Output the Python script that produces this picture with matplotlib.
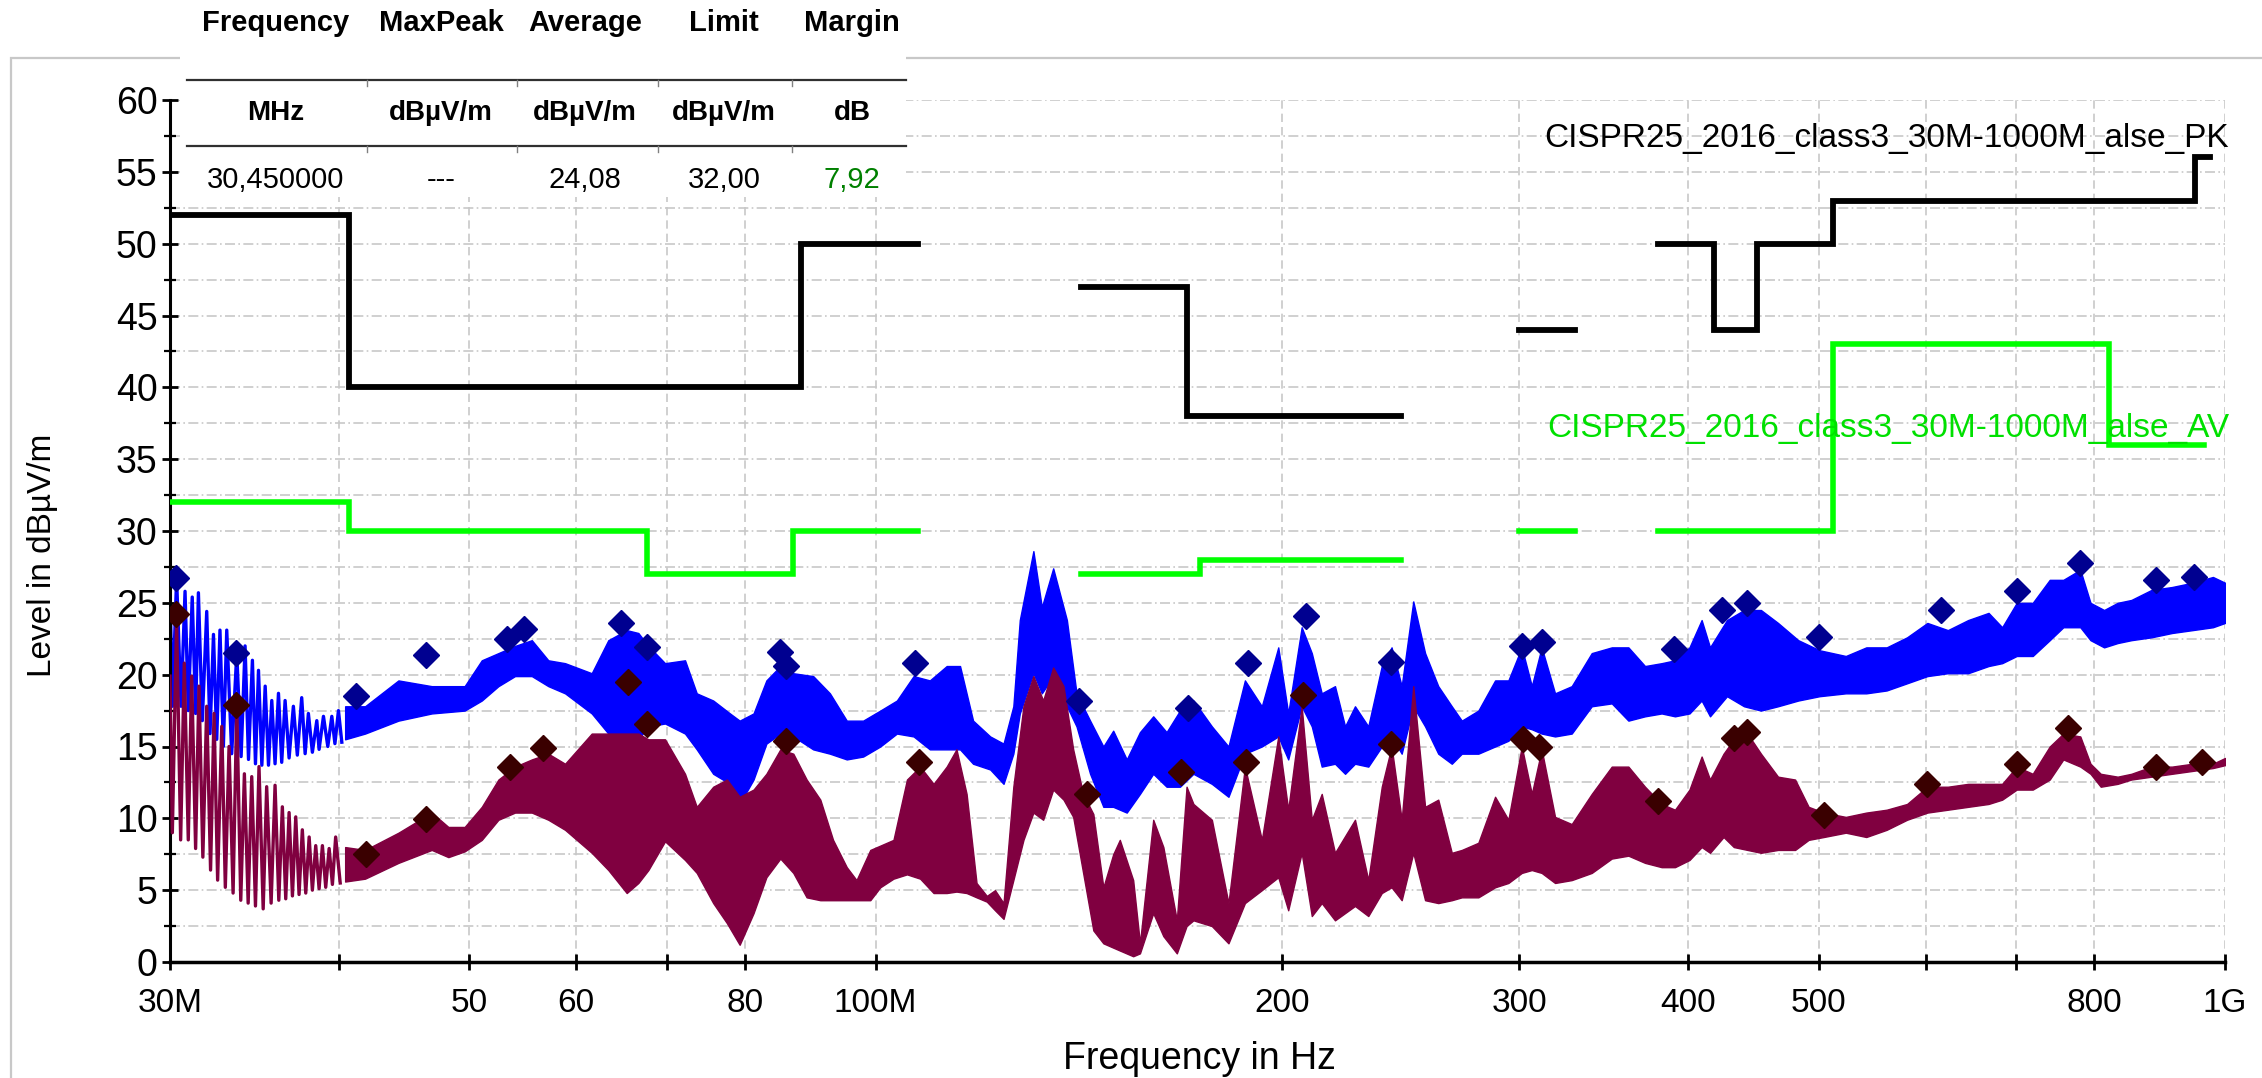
import numpy as np
import matplotlib
matplotlib.use('Agg')
import matplotlib.pyplot as plt
from matplotlib.patches import Rectangle
from matplotlib.lines import Line2D
from matplotlib.ticker import MultipleLocator, NullLocator

plt.rcParams['font.family'] = ['Liberation Sans', 'DejaVu Sans']

W, H = 2262, 1078

# --- limit lines (MHz, dBuV/m); nan splits the bands
pk_freq = [30, 40.7, 40.7, 88, 88, 107.5, np.nan, 142, 170, 170, 245, np.nan, 300, 330, np.nan,
           380, 418, 418, 450, 450, 512, 512, 950, 950, 975]
pk_level = [52, 52, 40, 40, 50, 50, np.nan, 47, 47, 38, 38, np.nan, 44, 44, np.nan,
            50, 50, 44, 44, 50, 50, 53, 53, 56, 56]
av_freq = [30, 40.7, 40.7, 67.7, 67.7, 86.8, 86.8, 107.5, np.nan, 142, 174, 174, 245, np.nan,
           300, 330, np.nan, 380, 512, 512, 820, 820, 965]
av_level = [32, 32, 30, 30, 27, 27, 30, 30, np.nan, 27, 27, 28, 28, np.nan, 30, 30, np.nan,
            30, 30, 43, 43, 36, 36]

# --- comb spikes at the low end (peak / trough pairs)
blue_comb_f = [30.0, 30.12, 30.34, 30.57, 30.78, 30.95, 31.16, 31.34, 31.49, 31.70, 31.94, 32.12,
               32.31, 32.49, 32.67, 32.86, 33.05, 33.33, 33.62, 33.87, 34.10, 34.30, 34.53, 34.71,
               34.89, 35.09, 35.29, 35.49, 35.69, 35.89, 36.10, 36.30, 36.51, 36.76, 37.03, 37.28,
               37.56, 37.78, 37.99, 38.25, 38.54, 38.69, 38.98, 39.27, 39.54, 39.75, 39.99, 40.22]
blue_comb_db = [26.1, 17.8, 26.7, 17.8, 25.8, 17.5, 25.4, 17.3, 25.7, 16.8, 24.4, 15.9,
                22.8, 15.5, 23.1, 15.0, 23.1, 14.5, 21.5, 14.3, 22.0, 14.1, 21.0, 13.8,
                20.3, 13.7, 19.2, 13.7, 18.2, 13.8, 18.7, 13.9, 18.2, 14.2, 17.8, 14.4,
                18.4, 14.5, 17.3, 14.6, 16.8, 14.8, 17.1, 15.0, 17.1, 15.2, 17.5, 15.3]
maroon_comb_f = [30.0, 30.12, 30.34, 30.55, 30.74, 30.95, 31.13, 31.34, 31.52, 31.73, 31.94, 32.15,
                 32.34, 32.54, 32.77, 32.97, 33.18, 33.41, 33.62, 33.85, 34.06, 34.28, 34.49, 34.71,
                 34.92, 35.17, 35.38, 35.65, 35.89, 36.12, 36.34, 36.55, 36.76, 36.97, 37.18, 37.39,
                 37.60, 37.82, 38.04, 38.25, 38.47, 38.69, 38.91, 39.13, 39.36, 39.58, 39.80, 40.11]
maroon_comb_db = [19.9, 9.0, 23.8, 8.5, 20.8, 8.5, 19.9, 7.9, 19.2, 7.3, 17.8, 6.4,
                  17.3, 5.7, 16.4, 5.2, 15.0, 4.8, 17.8, 4.3, 13.1, 4.1, 12.9, 3.9,
                  13.6, 3.7, 12.2, 4.1, 12.3, 4.3, 10.8, 4.4, 10.4, 4.6, 10.1, 4.7,
                  9.2, 4.8, 8.7, 5.0, 8.1, 5.1, 8.1, 5.2, 7.9, 5.4, 8.7, 5.5]

# --- MaxPeak trace envelope
blue_f = [40.45, 41.85, 44.3, 46.89, 49.6, 51.07, 52.54, 54.05, 55.62, 57.21,
          58.87, 61.61, 63.38, 65.4, 66.71, 67.86, 69.82, 72.24, 73.7, 75.8,
          78.0, 79.3, 81.2, 83.0, 85.0, 86.9, 89.9, 92.5, 95.2, 97.9,
          100.8, 103.7, 106.7, 109.7, 112.9, 115.5, 118.1, 121.6, 124.4, 126.5,
          127.9, 130.9, 132.8, 135.4, 138.6, 140.9, 144.2, 147.5, 150.0, 153.5,
          157.0, 160.6, 164.3, 168.1, 172.0, 177.5, 182.6, 187.8, 193.3, 198.8,
          202.2, 206.9, 210.5, 214.1, 219.0, 222.8, 226.6, 231.8, 237.2, 241.2,
          245.4, 250.3, 255.4, 261.2, 267.3, 271.9, 279.7, 287.8, 294.4, 301.2,
          306.4, 311.6, 318.8, 328.0, 339.4, 351.2, 361.3, 371.7, 382.4, 391.2,
          401.0, 409.4, 415.3, 427.5, 440.1, 453.0, 466.4, 482.8, 500.6, 523.6,
          542.2, 561.4, 581.3, 601.8, 623.2, 645.1, 668.0, 683.7, 700.9, 720.3,
          741.5, 758.9, 781.2, 794.9, 813.6, 832.6, 852.3, 882.2, 913.5, 946.1,
          979.6, 1000]
blue_hi = [17.8, 17.8, 19.6, 19.2, 19.2, 21.0, 21.5, 22.0, 22.4, 21.0,
           20.8, 20.1, 22.4, 23.1, 22.9, 22.0, 20.8, 21.0, 18.7, 18.2,
           17.3, 16.8, 17.3, 19.6, 20.6, 20.1, 19.9, 18.7, 16.8, 16.8,
           17.5, 18.2, 19.9, 19.6, 20.6, 20.6, 16.8, 15.7, 15.2, 17.8,
           23.8, 28.6, 24.7, 27.4, 23.8, 18.7, 16.8, 15.0, 16.1, 14.1,
           16.0, 17.1, 16.0, 17.5, 18.2, 16.4, 15.0, 19.6, 17.8, 21.9,
           17.3, 23.3, 21.5, 18.7, 19.2, 16.4, 17.8, 16.4, 20.6, 21.9,
           19.2, 25.1, 21.5, 19.2, 17.8, 16.8, 17.5, 19.6, 19.6, 21.9,
           19.2, 21.9, 18.7, 19.2, 21.5, 21.9, 21.9, 20.6, 20.8, 21.0,
           21.9, 23.8, 21.9, 23.8, 24.5, 24.5, 23.6, 22.4, 21.7, 21.3,
           21.9, 21.9, 22.6, 23.6, 23.1, 23.8, 24.3, 23.3, 25.0, 25.0,
           26.6, 26.6, 27.3, 25.0, 24.5, 25.0, 25.2, 25.9, 26.1, 26.4,
           26.8, 26.4]
blue_lo = [15.5, 15.9, 16.8, 17.3, 17.5, 18.2, 19.2, 19.9, 19.9, 19.2,
           18.7, 17.3, 15.9, 15.0, 15.5, 16.4, 16.6, 15.9, 14.8, 13.1,
           12.4, 11.0, 12.7, 15.2, 15.9, 15.7, 14.8, 14.5, 14.1, 14.3,
           15.0, 15.9, 15.7, 14.8, 14.8, 14.8, 13.8, 13.4, 12.4, 14.5,
           17.3, 20.1, 18.7, 19.9, 17.8, 16.4, 13.1, 10.8, 10.8, 10.4,
           11.7, 13.1, 12.2, 12.2, 13.1, 12.4, 11.5, 14.5, 15.0, 15.7,
           14.1, 17.8, 16.4, 13.6, 13.8, 13.1, 13.8, 13.6, 15.0, 15.7,
           14.5, 17.8, 16.4, 14.5, 13.8, 14.5, 14.5, 15.0, 15.4, 16.4,
           16.2, 15.9, 15.7, 15.9, 17.8, 18.0, 16.8, 17.1, 17.3, 17.1,
           17.3, 18.2, 17.1, 18.5, 17.8, 17.5, 17.8, 18.2, 18.5, 18.7,
           18.7, 18.9, 19.4, 19.9, 20.1, 20.1, 20.6, 20.8, 21.3, 21.3,
           22.4, 23.3, 23.3, 22.4, 21.9, 22.2, 22.4, 22.6, 22.9, 23.1,
           23.3, 23.6]

# --- Average trace envelope
maroon_f = [40.45, 41.85, 44.3, 46.89, 48.24, 49.6, 51.07, 52.54, 54.05, 55.62,
            57.21, 58.87, 61.61, 63.38, 65.4, 66.71, 67.86, 69.82, 72.24, 73.7,
            75.8, 77.6, 79.3, 81.2, 83.0, 85.0, 86.9, 88.9, 91.0, 93.0,
            95.2, 96.8, 99.1, 100.8, 103.1, 105.5, 107.9, 110.4, 112.9, 114.8,
            116.8, 118.8, 120.9, 122.6, 124.4, 126.5, 128.7, 130.9, 133.1, 135.4,
            137.8, 140.1, 142.5, 145.0, 147.5, 150.0, 151.7, 155.2, 157.0, 160.6,
            163.4, 167.2, 170.0, 172.0, 177.5, 182.6, 187.8, 193.3, 198.8, 202.2,
            206.9, 210.5, 214.1, 219.0, 226.6, 231.8, 237.2, 241.2, 245.4, 250.3,
            255.4, 261.2, 267.3, 271.9, 279.7, 287.8, 294.4, 301.2, 306.4, 311.6,
            318.8, 328.0, 339.4, 351.2, 361.3, 371.7, 382.4, 391.2, 401.0, 409.4,
            415.3, 425.0, 432.5, 442.7, 453.0, 466.4, 480.2, 491.4, 504.3, 523.6,
            542.2, 561.4, 581.3, 601.8, 623.2, 645.1, 668.0, 683.7, 700.9, 720.3,
            741.5, 758.9, 781.2, 794.9, 808.9, 832.6, 852.3, 882.2, 913.5, 946.1,
            979.6, 1000]
maroon_hi = [8.0, 7.8, 9.0, 10.4, 9.4, 9.4, 10.8, 12.7, 13.6, 14.1,
             14.5, 13.8, 15.9, 15.9, 15.9, 15.9, 15.5, 15.5, 13.1, 10.8,
             12.2, 12.7, 11.5, 12.0, 13.1, 14.8, 14.5, 12.7, 11.3, 8.5,
             6.6, 5.7, 7.8, 8.1, 8.5, 12.7, 13.6, 12.4, 13.6, 14.8,
             11.7, 5.5, 4.6, 5.0, 4.1, 12.2, 17.8, 19.9, 18.2, 20.5,
             19.2, 14.8, 11.7, 10.3, 5.2, 7.5, 8.5, 5.7, 1.3, 9.9,
             8.0, 2.9, 12.2, 11.0, 9.9, 4.1, 13.6, 8.5, 15.7, 10.6,
             17.8, 9.9, 11.7, 7.6, 9.9, 5.7, 12.2, 15.0, 9.9, 19.2,
             10.8, 11.3, 7.6, 7.8, 8.3, 11.5, 9.9, 15.0, 11.7, 14.8,
             10.1, 9.6, 11.7, 13.6, 13.6, 12.2, 11.0, 10.6, 12.0, 14.3,
             12.7, 14.5, 15.5, 15.9, 14.5, 12.9, 12.7, 10.8, 10.4, 10.1,
             10.4, 10.6, 11.0, 12.2, 12.2, 12.4, 12.4, 12.4, 13.6, 13.1,
             15.0, 15.9, 15.7, 13.8, 13.1, 12.9, 13.1, 13.6, 13.6, 13.8,
             13.8, 14.2]
maroon_lo = [5.6, 5.8, 6.9, 7.8, 7.3, 7.7, 8.5, 9.9, 10.4, 10.4,
             9.9, 9.2, 7.6, 6.4, 4.8, 5.5, 6.4, 8.4, 7.1, 6.2,
             4.1, 2.7, 1.2, 3.4, 5.9, 7.2, 6.2, 4.5, 4.3, 4.3,
             4.3, 4.3, 4.3, 5.2, 5.8, 6.1, 5.8, 4.8, 4.8, 4.9,
             4.8, 4.5, 4.2, 3.6, 3.0, 5.7, 8.5, 10.4, 9.9, 12.0,
             11.3, 10.1, 6.2, 2.2, 1.3, 1.0, 0.8, 0.4, 0.6, 3.4,
             1.8, 0.6, 2.5, 2.9, 2.5, 1.3, 4.1, 5.0, 5.9, 3.6,
             7.6, 3.2, 4.1, 2.9, 3.9, 3.2, 4.8, 5.2, 4.3, 7.6,
             4.3, 4.1, 4.3, 4.5, 4.5, 5.2, 5.5, 6.2, 6.4, 6.2,
             5.5, 5.7, 6.2, 7.2, 7.4, 6.9, 6.6, 6.6, 7.1, 8.0,
             7.6, 8.7, 8.0, 7.8, 7.6, 7.8, 7.8, 8.5, 8.7, 9.0,
             8.7, 9.2, 9.9, 10.4, 10.6, 10.8, 11.0, 11.3, 12.0, 12.0,
             12.7, 14.1, 13.6, 13.1, 12.2, 12.4, 12.7, 12.9, 13.1, 13.3,
             13.5, 13.7]

# --- final measurement points
blue_mk_f = [30.3, 33.6, 41.2, 46.4, 53.3, 54.9, 64.8, 67.7, 84.9, 85.8, 107.0, 141.5, 170.5,
             188.9, 208.3, 240.9, 301.2, 311.7, 390.6, 423.8, 442.7, 500.6, 615.9, 700.9,
             781.2, 888.9, 948.8]
blue_mk_db = [26.7, 21.5, 18.5, 21.4, 22.5, 23.2, 23.6, 21.9, 21.6, 20.6, 20.8, 18.2, 17.7,
              20.8, 24.1, 20.9, 22.0, 22.3, 21.8, 24.5, 25.0, 22.6, 24.5, 25.8,
              27.8, 26.6, 26.8]
maroon_mk_f = [30.3, 33.6, 41.9, 46.4, 53.6, 56.7, 65.5, 67.7, 85.8, 107.7, 143.5, 168.3,
               188.1, 207.5, 240.9, 302.0, 310.3, 380.0, 432.5, 442.7, 504.3, 601.0, 700.9,
               765.5, 888.9, 961.6]
maroon_mk_db = [24.2, 17.9, 7.5, 9.95, 13.6, 14.9, 19.5, 16.6, 15.4, 13.9, 11.7, 13.2,
                13.9, 18.6, 15.2, 15.5, 15.0, 11.2, 15.6, 16.0, 10.2, 12.4, 13.8,
                16.3, 13.6, 13.9]

# --- result table
tbl_head = ['Frequency', 'MaxPeak', 'Average', 'Limit', 'Margin']
tbl_unit = ['MHz', 'dBµV/m', 'dBµV/m', 'dBµV/m', 'dB']
tbl_vals = ['30,450000', '---', '24,08', '32,00', '7,92']

xticks = [30, 40, 50, 60, 70, 80, 100, 200, 300, 400, 500, 600, 700, 800, 1000]
xlabels = ['30M', '', '50', '60', '', '80', '100M', '200', '300', '400', '500', '', '', '800', '1G']

BLUE = '#0000ff'
MAROON = '#800040'
LIME = '#00ff00'


def px(x, y):
    return x / W, 1 - y / H


fig = plt.figure(figsize=(W / 100, H / 100), dpi=100)
ax = fig.add_axes([170 / W, 1 - 962 / H, (2225 - 170) / W, (962 - 100) / H])
ax.set_xscale('log')
ax.set_xlim(30, 1000)
ax.set_ylim(0, 60)
ax.set_axisbelow(True)

# traces
ax.fill_between(blue_f, blue_lo, blue_hi, color=BLUE, lw=1.0, zorder=2)
ax.plot(blue_comb_f, blue_comb_db, color=BLUE, lw=2.4, zorder=2)
ax.fill_between(maroon_f, maroon_lo, maroon_hi, color=MAROON, lw=1.0, zorder=3)
ax.plot(maroon_comb_f, maroon_comb_db, color=MAROON, lw=2.4, zorder=3)

# limits
ax.plot(pk_freq, pk_level, color='black', lw=4.2, zorder=4, solid_joinstyle='miter')
ax.plot(av_freq, av_level, color=LIME, lw=4.0, zorder=4, solid_joinstyle='miter')

# markers
ax.plot(blue_mk_f, blue_mk_db, 'D', color='#000090', ms=13.5, mec='#000090', ls='none', zorder=5)
ax.plot(maroon_mk_f, maroon_mk_db, 'D', color='#3a0000', ms=13.5, mec='#3a0000', ls='none', zorder=5)

# axes / ticks
for s in ['top', 'right']:
    ax.spines[s].set_visible(False)
ax.spines['left'].set_linewidth(2.2)
ax.spines['bottom'].set_linewidth(2.5)
ax.set_xticks(xticks)
ax.set_xticklabels(xlabels)
ax.xaxis.set_minor_locator(NullLocator())
ax.set_yticks(range(0, 61, 5))
ax.yaxis.set_minor_locator(MultipleLocator(2.5))
ax.tick_params(axis='x', direction='inout', length=12, width=2, labelsize=24, pad=13)
ax.tick_params(axis='y', which='major', direction='inout', length=12, width=2, labelsize=27, pad=3)
ax.tick_params(axis='y', which='minor', direction='inout', length=8, width=1.6)
ax.grid(axis='y', which='both', color='#c8c8c8', lw=1.2, ls=(0, (6, 2, 1, 2)))
ax.grid(axis='x', which='major', color='#c8c8c8', lw=1.2, ls=(0, (5, 3)))

# labels
fig.text(*px(43, 555), 'Level in dBµV/m', rotation=90, ha='center', va='center', fontsize=24)
fig.text(*px(1199, 1069), 'Frequency in Hz', ha='center', va='baseline', fontsize=27)
fig.text(*px(2229, 139), 'CISPR25_2016_class3_30M-1000M_alse_PK', ha='right', va='center',
         fontsize=24, color='black', zorder=6)
fig.text(*px(2229, 428), 'CISPR25_2016_class3_30M-1000M_alse_AV', ha='right', va='center',
         fontsize=24, color='#00e000', zorder=6)

# outer frame
fig.add_artist(Rectangle(px(11, 1200), (W + 50) / W, (1200 - 58) / H, fill=False,
                         edgecolor='#c8c8c8', lw=1.6, transform=fig.transFigure, zorder=1))

# table box on top
fig.add_artist(Rectangle(px(180, 197), (906 - 180) / W, 197 / H, facecolor='white',
                         edgecolor='none', transform=fig.transFigure, zorder=5))
col_x = [276, 441, 585, 724, 852]
for cx, h, u, v in zip(col_x, tbl_head, tbl_unit, tbl_vals):
    fig.text(*px(cx, 23), h, ha='center', va='center', fontsize=21, fontweight='bold', zorder=6)
    fig.text(*px(cx, 113), u, ha='center', va='center', fontsize=20, fontweight='bold', zorder=6)
    fig.text(*px(cx, 180), v, ha='center', va='center', fontsize=21, zorder=6,
             color='#008000' if v == '7,92' else 'black')
for ly in [80, 146]:
    x0, y0 = px(187, ly)
    x1, _ = px(906, ly)
    fig.add_artist(Line2D([x0, x1], [y0, y0], color='#303030', lw=1.6,
                          transform=fig.transFigure, zorder=6))
    for tx in [367, 517, 658, 792]:
        a, b = px(tx, ly)
        _, c = px(tx, ly + 6)
        fig.add_artist(Line2D([a, a], [b, c], color='#808080', lw=1.0,
                              transform=fig.transFigure, zorder=6))

fig.savefig('out.png', dpi=100)
